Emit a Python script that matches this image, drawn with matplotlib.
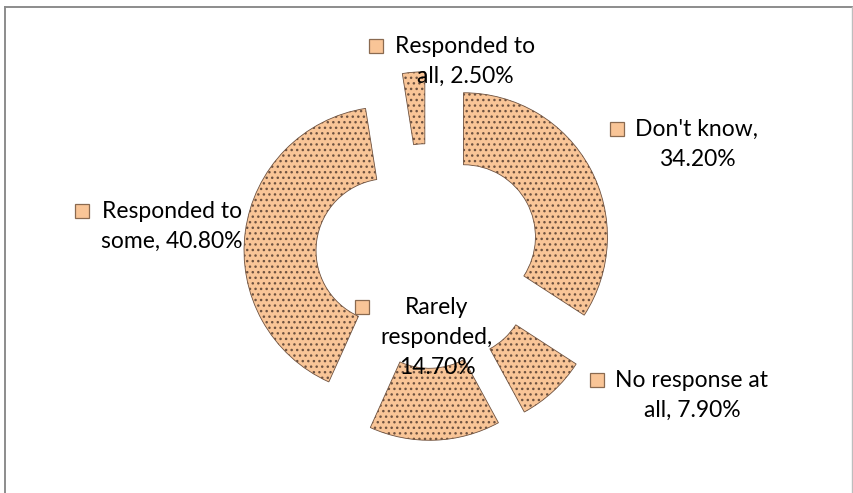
import textwrap
import matplotlib
matplotlib.use('Agg')
import matplotlib.pyplot as plt
from matplotlib.patches import Rectangle
from matplotlib.lines import Line2D
from matplotlib.transforms import IdentityTransform

# 数据
categories = ["Don't know", "No response at all", "Rarely responded",
              "Responded to some", "Responded to all"]
shares = [34.2, 7.9, 14.7, 40.8, 2.5]

# 标签位置（像素，左上为原点）：第一行文字中心x，第一行基线y
label_pos = [(697, 136), (692, 387), (437, 314), (172, 218), (465, 53)]

W, H = 854, 493
CX, CY, R = 428, 256, 144      # 圆心和外半径（像素）
fill = '#F9C597'
dot = '#6E5240'

plt.rcParams['font.family'] = ['Lato', 'DejaVu Sans']
plt.rcParams['hatch.linewidth'] = 1.0

fig = plt.figure(figsize=(W / 100, H / 100), dpi=100)
ax = fig.add_axes([0, 0, 1, 1])

wedges, _ = ax.pie(shares, startangle=90, counterclock=False, radius=1.0,
                   explode=[0.28] * len(shares), colors=[fill] * len(shares),
                   wedgeprops=dict(width=0.5, edgecolor=dot, linewidth=0.6, hatch='...'))
ax.set_xlim(-CX / R, (W - CX) / R)
ax.set_ylim((CY - H) / R, CY / R)
ax.axis('off')

# 边框
fig.add_artist(Line2D([5.5 / W, 5.5 / W], [0, 1 - 6.5 / H], color='#8c8c8c', lw=1.4,
                      transform=fig.transFigure))
fig.add_artist(Line2D([5.5 / W, 852.5 / W], [1 - 6.5 / H, 1 - 6.5 / H], color='#8c8c8c',
                      lw=1.4, transform=fig.transFigure))
fig.add_artist(Line2D([852.5 / W, 852.5 / W], [0, 1 - 6.5 / H], color='#bdbdbd', lw=1.0,
                      transform=fig.transFigure))

# 标签
renderer = fig.canvas.get_renderer()
line_gap = 30
for name, val, (x, y) in zip(categories, shares, label_pos):
    lines = textwrap.wrap('%s, %.2f%%' % (name, val), 14)
    widths = []
    for i, s in enumerate(lines):
        t = fig.text(x / W, 1 - (y + i * line_gap) / H, s, ha='center', va='baseline',
                     fontsize=16.5, color='black')
        widths.append(t.get_window_extent(renderer).width)
    kx = x - max(widths) / 2 - 12 - 14
    ky = H - (y - 7) - 7
    fig.add_artist(Rectangle((kx, ky), 14, 14, facecolor=fill, edgecolor='#8a6a50',
                             lw=0.9, transform=IdentityTransform()))

fig.savefig('out.png', dpi=100, facecolor='white')
